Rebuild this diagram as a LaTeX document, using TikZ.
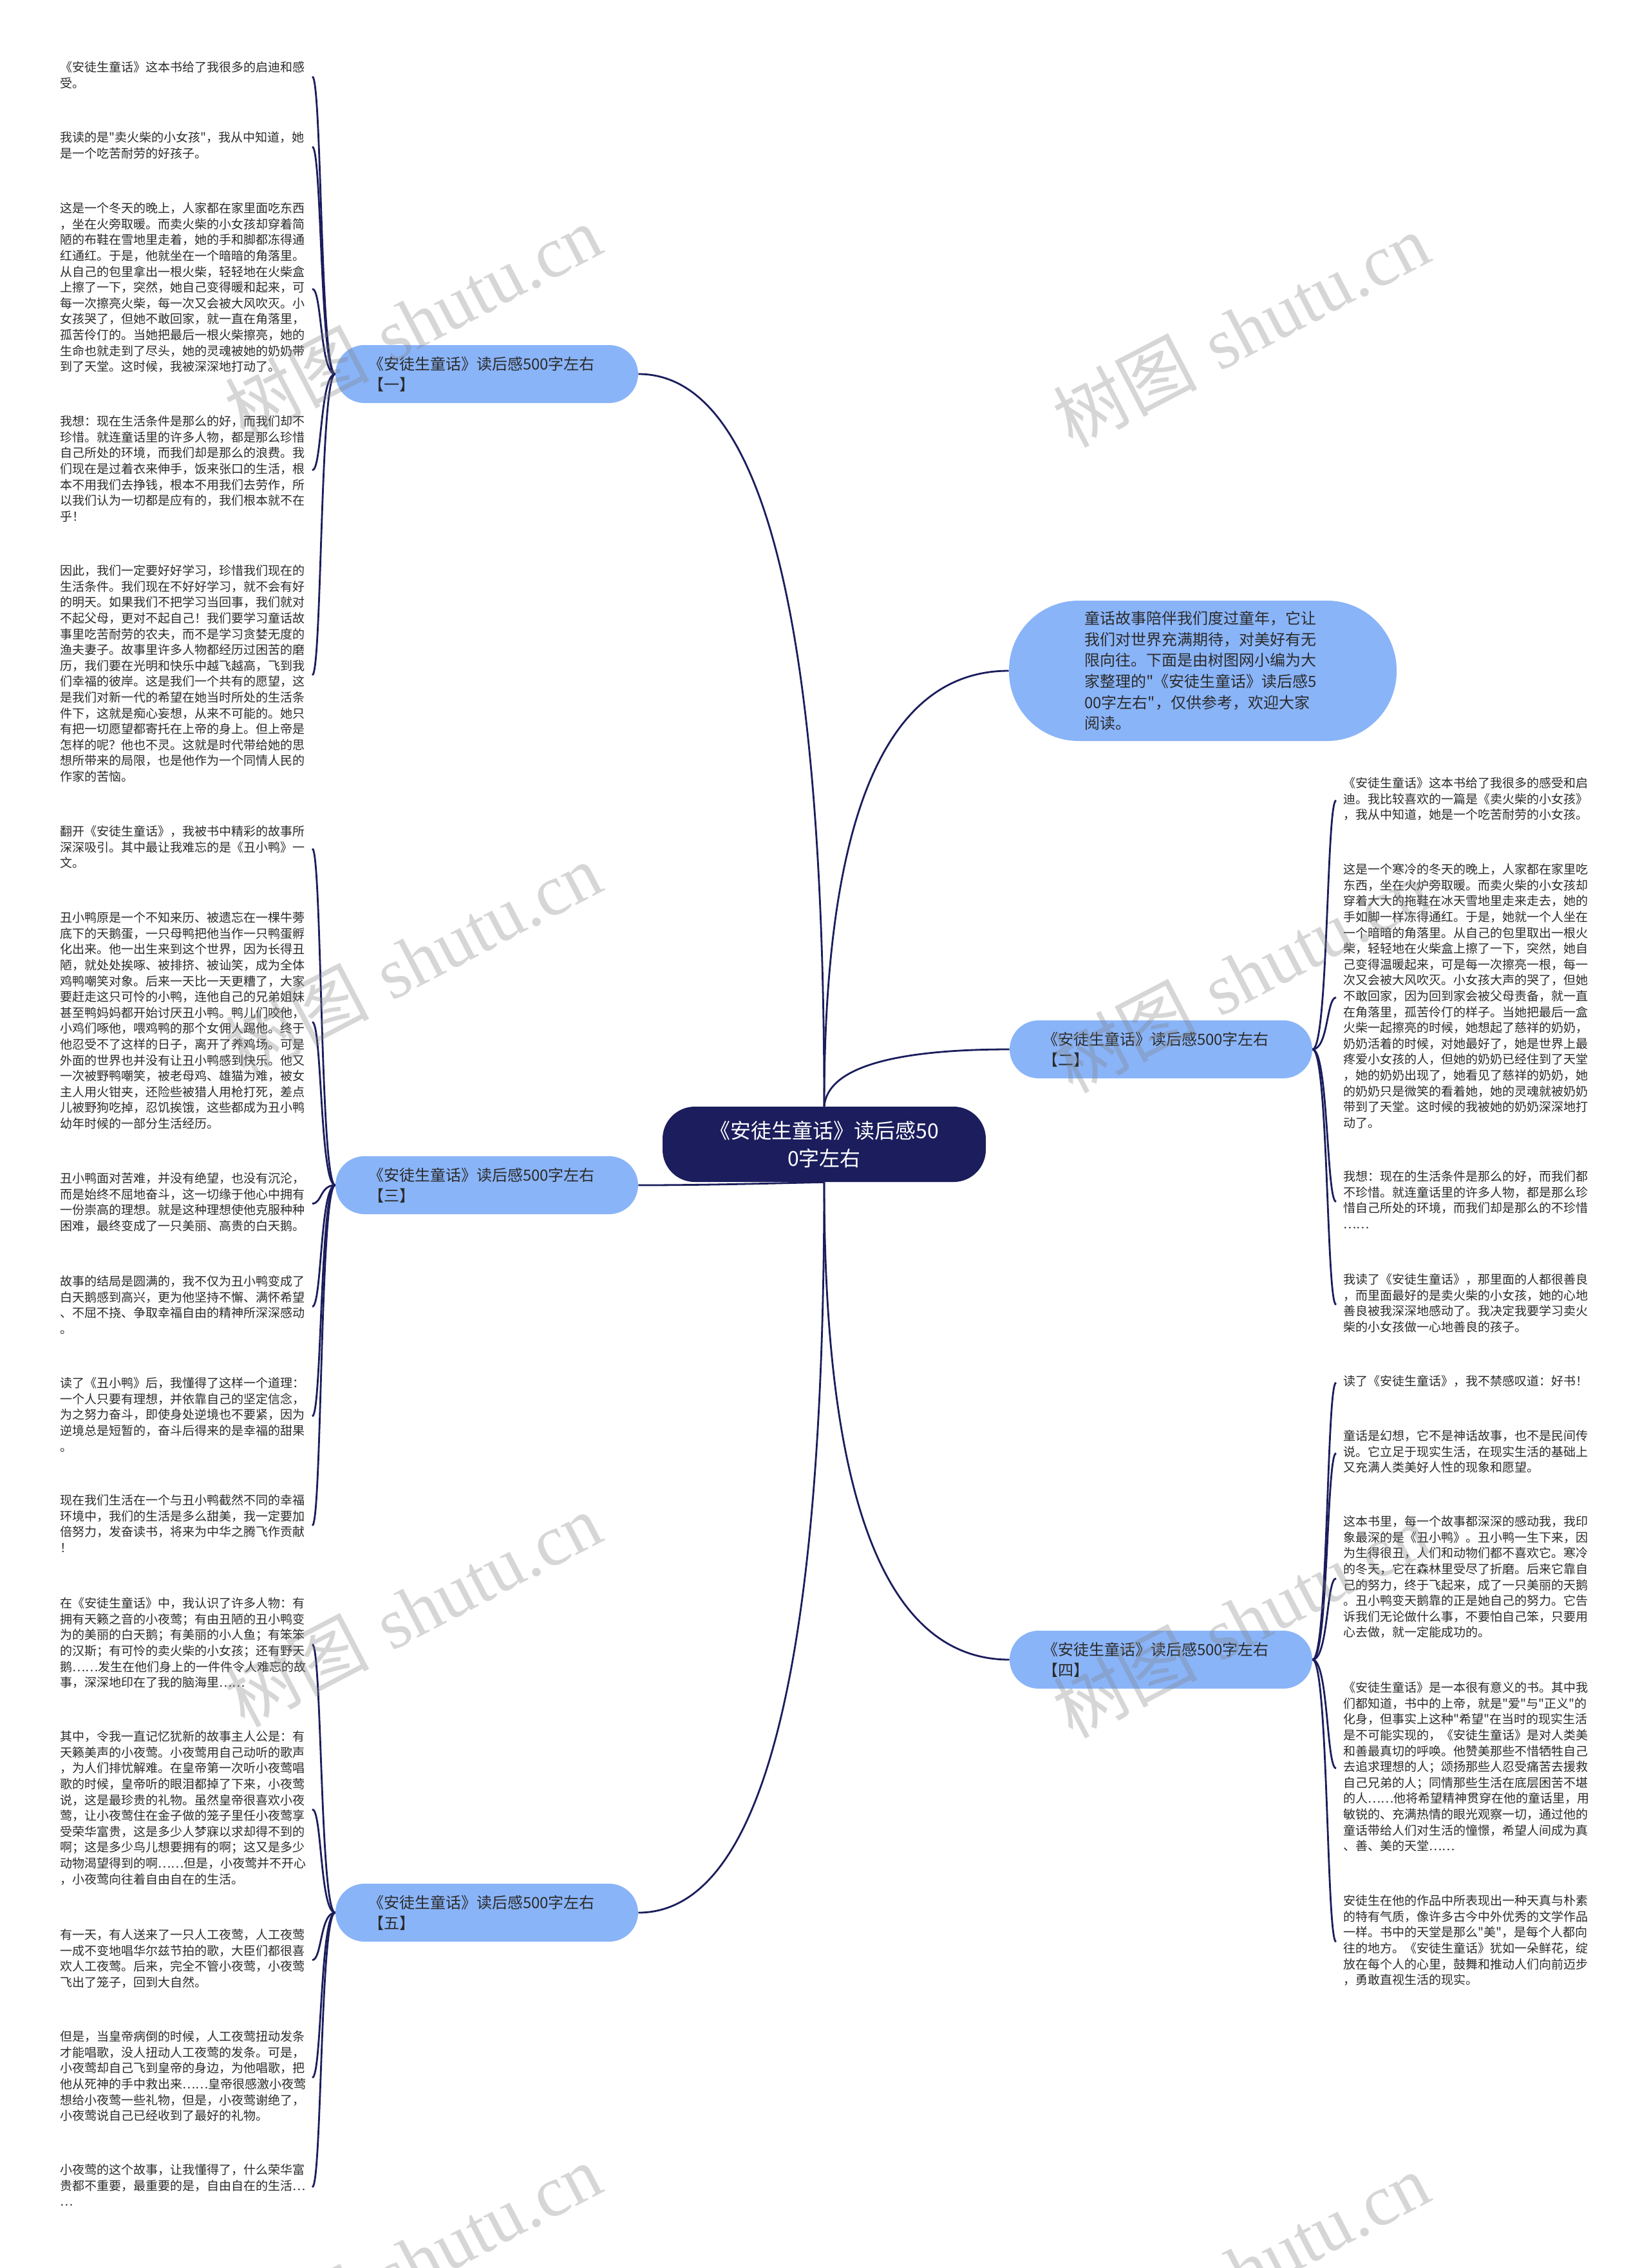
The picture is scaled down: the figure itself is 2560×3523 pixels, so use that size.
\documentclass[tikz,border=0pt]{standalone}
\usepackage{fontspec}
\newfontfamily\cjk{Noto Sans CJK SC}
\newfontfamily\wmserif{Liberation Serif}
\usetikzlibrary{calc}
\pgfdeclarelayer{background}
\pgfsetlayers{background,main}
\definecolor{navy}{HTML}{1B1D5C}
\definecolor{lblue}{HTML}{8AB4F8}
\definecolor{txt}{HTML}{2B2B2B}
\tikzset{
  leaf/.style={anchor=north west, inner sep=0pt, text width=210pt, align=left,
    font=\cjk\fontsize{9.5pt}{12.3pt}\selectfont, text=txt},
  branch/.style={rectangle, rounded corners=22.5pt, fill=lblue, minimum width=235pt,
    minimum height=45pt, text width=184pt, align=left, inner sep=0pt,
    font=\cjk\fontsize{12pt}{16pt}\selectfont, text=txt},
  intronode/.style={rectangle, rounded corners=54pt, fill=lblue, minimum width=301pt,
    minimum height=109pt, text width=184pt, align=left, inner sep=0pt,
    font=\cjk\fontsize{12pt}{16.3pt}\selectfont, text=txt},
  rootnode/.style={rectangle, rounded corners=25pt, fill=navy, minimum width=251pt,
    minimum height=58.5pt, align=center, inner sep=0pt,
    font=\cjk\fontsize{16pt}{21.5pt}\selectfont, text=white},
  conn/.style={draw=navy, line width=1.4pt},
  wm/.style={text=black!50, text opacity=0.32, inner sep=0pt, rotate=27.5,
    font=\fontsize{56pt}{60pt}\selectfont}
}
\newcommand\lconn[2]{\draw[conn] (#1.west) .. controls (#1.west -| LA) and (#2.center -| LB) .. (#2.center -| LC);}
\newcommand\rconn[2]{\draw[conn] (#1.east) .. controls (#1.east -| RA) and (#2.center -| RB) .. (#2.center -| RC);}
\newcommand\wmtext{{\cjk 树图} {\wmserif shutu.cn}}
\begin{document}
\begin{tikzpicture}[x=0.5pt,y=-0.5pt]
\useasboundingbox (0,0) rectangle (2560,3523);
\coordinate (LA) at (497,0);
\coordinate (LB) at (500,0);
\coordinate (LC) at (485,0);
\coordinate (RA) at (2063,0);
\coordinate (RB) at (2060,0);
\coordinate (RC) at (2075,0);

% root, intro, branches
\node[rootnode] (c) at (1280,1777.5) {《安徒生童话》读后感50\\0字左右};
\node[intronode] (intro) at (1868,1042) {童话故事陪伴我们度过童年，它让\\我们对世界充满期待，对美好有无\\限向往。下面是由树图网小编为大\\家整理的"《安徒生童话》读后感5\\00字左右"，仅供参考，欢迎大家\\阅读。};
\node[branch] (b1) at (756,581) {《安徒生童话》读后感500字左右\\【一】};
\node[branch] (b3) at (756,1841) {《安徒生童话》读后感500字左右\\【三】};
\node[branch] (b5) at (756,2971) {《安徒生童话》读后感500字左右\\【五】};
\node[branch] (b2) at (1803,1630) {《安徒生童话》读后感500字左右\\【二】};
\node[branch] (b4) at (1803,2578) {《安徒生童话》读后感500字左右\\【四】};

% leaves of b1
\node[leaf] (a1) at (93,94) {\strut《安徒生童话》这本书给了我很多的启迪和感\\受。\strut};
\node[leaf] (a2) at (93,203) {\strut 我读的是"卖火柴的小女孩"，我从中知道，她\\是一个吃苦耐劳的好孩子。\strut};
\node[leaf] (a3) at (93,313) {\strut 这是一个冬天的晚上，人家都在家里面吃东西\\，坐在火旁取暖。而卖火柴的小女孩却穿着简\\陋的布鞋在雪地里走着，她的手和脚都冻得通\\红通红。于是，他就坐在一个暗暗的角落里。\\从自己的包里拿出一根火柴，轻轻地在火柴盒\\上擦了一下，突然，她自己变得暖和起来，可\\每一次擦亮火柴，每一次又会被大风吹灭。小\\女孩哭了，但她不敢回家，就一直在角落里，\\孤苦伶仃的。当她把最后一根火柴擦亮，她的\\生命也就走到了尽头，她的灵魂被她的奶奶带\\到了天堂。这时候，我被深深地打动了。\strut};
\node[leaf] (a4) at (93,644) {\strut 我想：现在生活条件是那么的好，而我们却不\\珍惜。就连童话里的许多人物，都是那么珍惜\\自己所处的环境，而我们却是那么的浪费。我\\们现在是过着衣来伸手，饭来张口的生活，根\\本不用我们去挣钱，根本不用我们去劳作，所\\以我们认为一切都是应有的，我们根本就不在\\乎！\strut};
\node[leaf] (a5) at (93,876) {\strut 因此，我们一定要好好学习，珍惜我们现在的\\生活条件。我们现在不好好学习，就不会有好\\的明天。如果我们不把学习当回事，我们就对\\不起父母，更对不起自己！我们要学习童话故\\事里吃苦耐劳的农夫，而不是学习贪婪无度的\\渔夫妻子。故事里许多人物都经历过困苦的磨\\历，我们要在光明和快乐中越飞越高，飞到我\\们幸福的彼岸。这是我们一个共有的愿望，这\\是我们对新一代的希望在她当时所处的生活条\\件下，这就是痴心妄想，从来不可能的。她只\\有把一切愿望都寄托在上帝的身上。但上帝是\\怎样的呢？他也不灵。这就是时代带给她的思\\想所带来的局限，也是他作为一个同情人民的\\作家的苦恼。\strut};

% leaves of b3
\node[leaf] (d1) at (93,1281) {\strut 翻开《安徒生童话》，我被书中精彩的故事所\\深深吸引。其中最让我难忘的是《丑小鸭》一\\文。\strut};
\node[leaf] (d2) at (93,1415) {\strut 丑小鸭原是一个不知来历、被遗忘在一棵牛蒡\\底下的天鹅蛋，一只母鸭把他当作一只鸭蛋孵\\化出来。他一出生来到这个世界，因为长得丑\\陋，就处处挨啄、被排挤、被讪笑，成为全体\\鸡鸭嘲笑对象。后来一天比一天更糟了，大家\\要赶走这只可怜的小鸭，连他自己的兄弟姐妹\\甚至鸭妈妈都开始讨厌丑小鸭。鸭儿们咬他，\\小鸡们啄他，喂鸡鸭的那个女佣人踢他。终于\\他忍受不了这样的日子，离开了养鸡场。可是\\外面的世界也并没有让丑小鸭感到快乐。他又\\一次被野鸭嘲笑，被老母鸡、雄猫为难，被女\\主人用火钳夹，还险些被猎人用枪打死，差点\\儿被野狗吃掉，忍饥挨饿，这些都成为丑小鸭\\幼年时候的一部分生活经历。\strut};
\node[leaf] (d3) at (93,1820) {\strut 丑小鸭面对苦难，并没有绝望，也没有沉沦，\\而是始终不屈地奋斗，这一切缘于他心中拥有\\一份崇高的理想。就是这种理想使他克服种种\\困难，最终变成了一只美丽、高贵的白天鹅。\strut};
\node[leaf] (d4) at (93,1980) {\strut 故事的结局是圆满的，我不仅为丑小鸭变成了\\白天鹅感到高兴，更为他坚持不懈、满怀希望\\、不屈不挠、争取幸福自由的精神所深深感动\\。\strut};
\node[leaf] (d5) at (93,2138) {\strut 读了《丑小鸭》后，我懂得了这样一个道理：\\一个人只要有理想，并依靠自己的坚定信念，\\为之努力奋斗，即使身处逆境也不要紧，因为\\逆境总是短暂的，奋斗后得来的是幸福的甜果\\。\strut};
\node[leaf] (d6) at (93,2320) {\strut 现在我们生活在一个与丑小鸭截然不同的幸福\\环境中，我们的生活是多么甜美，我一定要加\\倍努力，发奋读书，将来为中华之腾飞作贡献\\！\strut};

% leaves of b5
\node[leaf] (f1) at (93,2480) {\strut 在《安徒生童话》中，我认识了许多人物：有\\拥有天籁之音的小夜莺；有由丑陋的丑小鸭变\\为的美丽的白天鹅；有美丽的小人鱼；有笨笨\\的汉斯；有可怜的卖火柴的小女孩；还有野天\\鹅……发生在他们身上的一件件令人难忘的故\\事，深深地印在了我的脑海里……\strut};
\node[leaf] (f2) at (93,2687) {\strut 其中，令我一直记忆犹新的故事主人公是：有\\天籁美声的小夜莺。小夜莺用自己动听的歌声\\，为人们排忧解难。在皇帝第一次听小夜莺唱\\歌的时候，皇帝听的眼泪都掉了下来，小夜莺\\说，这是最珍贵的礼物。虽然皇帝很喜欢小夜\\莺，让小夜莺住在金子做的笼子里任小夜莺享\\受荣华富贵，这是多少人梦寐以求却得不到的\\啊；这是多少鸟儿想要拥有的啊；这又是多少\\动物渴望得到的啊……但是，小夜莺并不开心\\，小夜莺向往着自由自在的生活。\strut};
\node[leaf] (f3) at (93,2995) {\strut 有一天，有人送来了一只人工夜莺，人工夜莺\\一成不变地唱华尔兹节拍的歌，大臣们都很喜\\欢人工夜莺。后来，完全不管小夜莺，小夜莺\\飞出了笼子，回到大自然。\strut};
\node[leaf] (f4) at (93,3153) {\strut 但是，当皇帝病倒的时候，人工夜莺扭动发条\\才能唱歌，没人扭动人工夜莺的发条。可是，\\小夜莺却自己飞到皇帝的身边，为他唱歌，把\\他从死神的手中救出来……皇帝很感激小夜莺\\想给小夜莺一些礼物，但是，小夜莺谢绝了，\\小夜莺说自己已经收到了最好的礼物。\strut};
\node[leaf] (f5) at (93,3360) {\strut 小夜莺的这个故事，让我懂得了，什么荣华富\\贵都不重要，最重要的是，自由自在的生活…\\…\strut};

% leaves of b2
\node[leaf] (e1) at (2086,1206) {\strut《安徒生童话》这本书给了我很多的感受和启\\迪。我比较喜欢的一篇是《卖火柴的小女孩》\\，我从中知道，她是一个吃苦耐劳的小女孩。\strut};
\node[leaf] (e2) at (2086,1340) {\strut 这是一个寒冷的冬天的晚上，人家都在家里吃\\东西，坐在火炉旁取暖。而卖火柴的小女孩却\\穿着大大的拖鞋在冰天雪地里走来走去，她的\\手如脚一样冻得通红。于是，她就一个人坐在\\一个暗暗的角落里。从自己的包里取出一根火\\柴，轻轻地在火柴盒上擦了一下，突然，她自\\己变得温暖起来，可是每一次擦亮一根，每一\\次又会被大风吹灭。小女孩大声的哭了，但她\\不敢回家，因为回到家会被父母责备，就一直\\在角落里，孤苦伶仃的样子。当她把最后一盒\\火柴一起擦亮的时候，她想起了慈祥的奶奶，\\奶奶活着的时候，对她最好了，她是世界上最\\疼爱小女孩的人，但她的奶奶已经住到了天堂\\，她的奶奶出现了，她看见了慈祥的奶奶，她\\的奶奶只是微笑的看着她，她的灵魂就被奶奶\\带到了天堂。这时候的我被她的奶奶深深地打\\动了。\strut};
\node[leaf] (e3) at (2086,1817) {\strut 我想：现在的生活条件是那么的好，而我们都\\不珍惜。就连童话里的许多人物，都是那么珍\\惜自己所处的环境，而我们却是那么的不珍惜\\……\strut};
\node[leaf] (e4) at (2086,1977) {\strut 我读了《安徒生童话》，那里面的人都很善良\\，而里面最好的是卖火柴的小女孩，她的心地\\善良被我深深地感动了。我决定我要学习卖火\\柴的小女孩做一心地善良的孩子。\strut};

% leaves of b4
\node[leaf] (g1) at (2086,2135) {\strut 读了《安徒生童话》，我不禁感叹道：好书！\strut};
\node[leaf] (g2) at (2086,2220) {\strut 童话是幻想，它不是神话故事，也不是民间传\\说。它立足于现实生活，在现实生活的基础上\\又充满人类美好人性的现象和愿望。\strut};
\node[leaf] (g3) at (2086,2353) {\strut 这本书里，每一个故事都深深的感动我，我印\\象最深的是《丑小鸭》。丑小鸭一生下来，因\\为生得很丑，人们和动物们都不喜欢它。寒冷\\的冬天，它在森林里受尽了折磨。后来它靠自\\己的努力，终于飞起来，成了一只美丽的天鹅\\。丑小鸭变天鹅靠的正是她自己的努力。它告\\诉我们无论做什么事，不要怕自己笨，只要用\\心去做，就一定能成功的。\strut};
\node[leaf] (g4) at (2086,2611) {\strut《安徒生童话》是一本很有意义的书。其中我\\们都知道，书中的上帝，就是"爱"与"正义"的\\化身，但事实上这种"希望"在当时的现实生活\\是不可能实现的，《安徒生童话》是对人类美\\和善最真切的呼唤。他赞美那些不惜牺牲自己\\去追求理想的人；颂扬那些人忍受痛苦去援救\\自己兄弟的人；同情那些生活在底层困苦不堪\\的人……他将希望精神贯穿在他的童话里，用\\敏锐的、充满热情的眼光观察一切，通过他的\\童话带给人们对生活的憧憬，希望人间成为真\\、善、美的天堂……\strut};
\node[leaf] (g5) at (2086,2942) {\strut 安徒生在他的作品中所表现出一种天真与朴素\\的特有气质，像许多古今中外优秀的文学作品\\一样。书中的天堂是那么"美"，是每个人都向\\往的地方。《安徒生童话》犹如一朵鲜花，绽\\放在每个人的心里，鼓舞和推动人们向前迈步\\，勇敢直视生活的现实。\strut};

\begin{pgfonlayer}{background}
\fill[white] (0,0) rectangle (2560,3523);
\draw[conn] (b1.east) .. controls (1184,581) and (1280,960) .. (c.north);
\draw[conn] (intro.west) .. controls (1376,1042) and (1280,1268) .. (c.north);
\draw[conn] (b2.west) .. controls (1382,1630) and (1285,1660) .. (c.north);
\draw[conn] (b3.east) .. controls (1100,1841) and (1200,1838) .. (c.south);
\draw[conn] (b4.west) .. controls (1376,2578) and (1280,2331) .. (c.south);
\draw[conn] (b5.east) .. controls (1184,2971) and (1280,2593) .. (c.south);
\lconn{b1}{a1}\lconn{b1}{a2}\lconn{b1}{a3}\lconn{b1}{a4}\lconn{b1}{a5}
\lconn{b3}{d1}\lconn{b3}{d2}\lconn{b3}{d3}\lconn{b3}{d4}\lconn{b3}{d5}\lconn{b3}{d6}
\lconn{b5}{f1}\lconn{b5}{f2}\lconn{b5}{f3}\lconn{b5}{f4}\lconn{b5}{f5}
\rconn{b2}{e1}\rconn{b2}{e2}\rconn{b2}{e3}\rconn{b2}{e4}
\rconn{b4}{g1}\rconn{b4}{g2}\rconn{b4}{g3}\rconn{b4}{g4}\rconn{b4}{g5}
\end{pgfonlayer}

% watermarks
\node[wm] (w1) at (641,499) {\wmtext};
\node[wm] (w2) at (1927,512) {\wmtext};
\node[wm] (w3) at (641,1490) {\wmtext};
\node[wm] (w4) at (1927,1515) {\wmtext};
\node[wm] (w5) at (641,2500) {\wmtext};
\node[wm] (w6) at (1927,2517) {\wmtext};
\node[wm] (w7) at (641,3511) {\wmtext};
\node[wm] (w8) at (1927,3525) {\wmtext};
\end{tikzpicture}
\end{document}
